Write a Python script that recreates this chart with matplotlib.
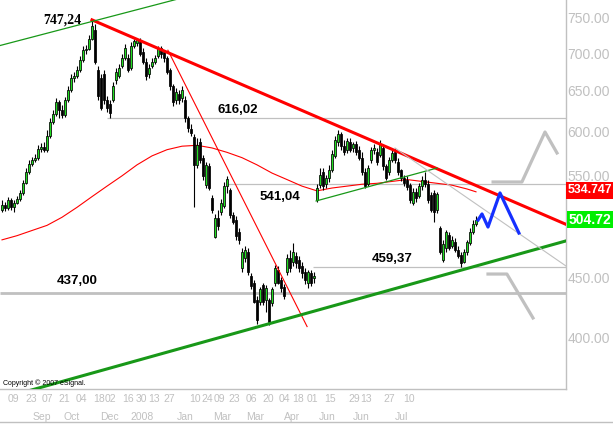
import matplotlib
matplotlib.use('Agg')
import matplotlib.pyplot as plt
from matplotlib import font_manager
from matplotlib.ticker import FixedLocator, FuncFormatter, NullLocator
from matplotlib.lines import Line2D
import numpy as np

plt.rcParams['font.family'] = ['Liberation Sans', 'DejaVu Sans']
_names = {f.name for f in font_manager.fontManager.ttflist}
if 'Liberation Sans Narrow' in _names:
    XFAM, XSIZE = 'Liberation Sans Narrow', 9
else:
    XFAM, XSIZE = 'Liberation Sans', 7.5

# ---------------- data ----------------
opens = [514,519,516,525,517,521,526,532,542,554,
         563,567,570,580,582,579,595,611,621,636,
         626,620,638,651,667,669,677,691,704,706,
         720,733,677,667,672,638,633,638,664,669,
         682,693,693,680,710,714,715,702,688,672,
         682,688,696,707,702,693,677,656,638,646,
         641,638,616,603,594,562,588,570,540,561,
         527,488,506,512,518,539,535,509,504,493,
         459,468,474,452,446,431,429,444,431,431,
         428,446,457,448,442,455,468,464,470,466,
         461,455,446,454,450,525,540,554,541,548,
         556,572,588,597,583,579,588,581,586,579,
         570,554,541,567,579,576,573,581,561,554,
         567,576,565,556,548,546,540,521,533,529,
         539,546,541,530,532,514,496,466,477,490,
         479,483,475,471,464,474,482,493,500]
closes = [519,516,525,517,521,526,532,542,554,563,
          567,570,580,582,579,595,611,621,636,626,
          620,638,651,667,669,677,691,704,706,720,
          738,688,643,628,638,628,622,656,674,680,
          693,707,677,710,717,718,699,688,669,680,
          688,693,707,699,693,674,656,636,648,638,
          651,616,604,598,562,584,567,550,562,537,
          514,506,498,521,539,547,509,502,489,485,
          474,475,455,443,429,414,440,429,441,413,
          440,459,446,441,434,468,459,474,463,459,
          454,448,455,446,452,537,551,539,548,556,
          574,590,597,583,576,589,579,586,576,570,
          554,539,559,579,581,565,586,561,548,567,
          575,567,554,548,542,538,525,533,527,539,
          546,541,525,514,512,531,474,481,493,477,
          485,475,470,463,474,483,493,500,504.72]
highs = [525,522,528,527,525,529,535,546,559,567,
         571,574,584,587,588,602,616,626,641,638,
         632,642,656,672,674,682,696,710,711,725,
         747.24,741,682,672,677,643,638,661,680,685,
         699,713,699,715,720,720,721,707,693,685,
         693,697,710,710,704,696,680,659,654,651,
         656,643,619,609,597,592,592,573,565,564,
         530,510,514,526,543,550,537,512,508,496,
         477,479,477,454,448,434,442,446,444,433,
         442,462,461,451,445,472,475,482,474,470,
         464,459,457,457,455,541,559,559,551,562,
         579,595,602,599,590,592,592,588,589,583,
         576,559,562,582,586,581,590,583,563,571,
         579,581,570,557,551,550,542,537,537,542,
         550,554,546,533,535,533,498,485,494,493,
         489,487,479,474,476,485,496,504,508]
lows = [512,513,514,514,512,520,523,530,541,552,
        561,565,567,576,576,576,592,609,619,616,
        616,617,636,649,661,667,674,688,699,704,
        718,685,638,626,633,623,616,636,659,667,
        680,691,674,677,707,710,696,685,664,667,
        680,685,693,693,688,672,651,631,633,633,
        636,611,599,595,517,559,564,546,537,535,
        511,487,494,509,516,532,506,500,485,481,
        455,464,453,440,428,411,427,427,421,410,
        426,443,445,438,432,453,455,461,459,455,
        450,445,441,443,446,522,537,535,537,543,
        554,570,583,579,573,575,576,576,573,567,
        551,537,539,564,574,562,571,556,546,551,
        565,564,551,544,539,535,521,519,522,527,
        535,538,521,512,502,511,472,464,474,475,
        477,474,468,459.37,463,471,480,491,498]

ma_idx = [0,5,10,15,20,25,30,35,40,45,50,55,60,65,70,75,80,85,90,95,
          100,105,110,115,120,125,130,135,140,145,150,155,158]
ma_val = [485,489,494,499,507,517,528,539,550,562,572,579,583,584,581,576,
          570,562,553,546,539,534,537,539,541,542,544,546,544,542,540,536,533]

# trend lines: (bar index, price) end points
red_trend_x, red_trend_y = [30, 188], [747.24, 500]
red_thin_x, red_thin_y = [55.3, 101.7], [704, 409]
green_trend_x, green_trend_y = [0, 188], [355.3, 484]
green_top_x, green_top_y = [-0.67, 64], [710.5, 785]
green_mid_x, green_mid_y = [104.7, 145], [523.5, 558.5]
gray_diag_x, gray_diag_y = [131, 188], [580.9, 460.7]
blue_x = [158.7, 160, 162, 166, 172.3]
blue_y = [504.3, 510.3, 497.4, 531.8, 491.6]
gray_up_x, gray_up_y = [163.7, 173.3, 181, 185], [543.4, 543.4, 599.5, 575.3]
gray_dn_x, gray_dn_y = [162, 168.3, 177], [453.5, 453.5, 416]

levels = [616.02, 541.04, 459.37, 437.00]
level_start = [35, 75, 103.7, -0.67]
level_labels = ['616,02', '541,04', '459,37', '437,00']
peak_label = '747,24'

yticks = [400, 450, 550, 600, 650, 700, 750]
day_labels = ['09','23','07','21','04','18','02','16','30','13','27','10','24',
              '09','23','06','20','04','18','01','15','29','13','27','10']
day_pos = [3.67,9.67,15.17,20.67,26.33,32.2,36.3,42,46.33,50.67,55.67,64.33,68.5,
           72.6,77.33,83,88.67,94,98.67,103.33,109.33,117.33,121.33,129,135.67]
month_labels = ['Sep','Oct','Dec','2008','Jan','Mar','Mar','Apr','Jun','Jun','Jul']
month_pos = [13.33,23.33,35.67,46.67,61,73.33,84.33,96.67,108.33,119.67,133]

last_label = '504.72'
red_label_val, red_label = 534.74, '534.747'

# ---------------- drawing ----------------
GRAY = '#c0c0c0'
fig = plt.figure(figsize=(6.13, 4.24), dpi=100)
ax = fig.add_axes([0, 35/424, 566/613, 389/424])
ax.set_yscale('log')
ax.set_ylim(361.8, 777)
ax.set_xlim(-2/3, 188)

xs = np.arange(len(closes))
o = np.array(opens, float); c = np.array(closes, float)
h = np.array(highs, float); l = np.array(lows, float)

# level lines
for v, s in zip(levels, level_start):
    lw = 2.0 if v == 437.00 else 0.9
    ax.plot([s, 188], [v, v], color=GRAY, lw=lw, zorder=1, solid_capstyle='butt')

# moving average
ax.plot(ma_idx, ma_val, color='#ff0000', lw=0.8, zorder=2)

# candles
ax.vlines(xs, l, h, color='black', lw=0.8, zorder=3)
up = c >= o
bot = np.minimum(o, c)
hgt = np.maximum(np.abs(c - o), 0.6)
ax.bar(xs, hgt, bottom=bot, width=0.8,
       color=np.where(up, '#22dd22', 'black'), edgecolor='black',
       linewidth=0.55, zorder=4)

# trend lines
ax.plot(red_trend_x, red_trend_y, color='#ff0000', lw=2.2, zorder=5)
ax.plot(red_thin_x, red_thin_y, color='#ff0000', lw=0.8, zorder=5)
ax.plot(green_trend_x, green_trend_y, color='#189818', lw=2.2, zorder=5)
ax.plot(green_top_x, green_top_y, color='#189818', lw=0.9, zorder=5)
ax.plot(green_mid_x, green_mid_y, color='#189818', lw=0.9, zorder=5)
ax.plot(gray_diag_x, gray_diag_y, color=GRAY, lw=0.8, zorder=5)
ax.plot(gray_up_x, gray_up_y, color=GRAY, lw=2.3, zorder=5)
ax.plot(gray_dn_x, gray_dn_y, color=GRAY, lw=2.3, zorder=5)
ax.plot(blue_x, blue_y, color='#1530ff', lw=2.3, zorder=6)

# level text labels
lab_font = dict(fontsize=9.5, fontweight='bold', color='black')
ax.annotate(level_labels[0], (78.5, levels[0]), xytext=(0, 1.5),
            textcoords='offset points', ha='center', va='bottom', **lab_font)
ax.annotate(level_labels[1], (92.7, levels[1]), xytext=(0, -5),
            textcoords='offset points', ha='center', va='top', **lab_font)
ax.annotate(level_labels[2], (130.2, levels[2]), xytext=(0, 2),
            textcoords='offset points', ha='center', va='bottom', **lab_font)
ax.annotate(level_labels[3], (25, levels[3]), xytext=(0, 4.5),
            textcoords='offset points', ha='center', va='bottom', **lab_font)
ax.annotate(peak_label, (20, highs[30]), ha='center', va='center',
            fontsize=10, fontweight='bold', family='Liberation Serif')

# axes styling
for s in ['left', 'top']:
    ax.spines[s].set_visible(False)
for s in ['right', 'bottom']:
    ax.spines[s].set_color(GRAY)
    ax.spines[s].set_linewidth(1.0)
ax.yaxis.set_major_locator(FixedLocator(yticks))
ax.yaxis.set_minor_locator(NullLocator())
ax.yaxis.set_major_formatter(FuncFormatter(lambda v, p: f'{v:.2f}'))
ax.yaxis.tick_right()
ax.tick_params(axis='y', length=0, pad=1, labelsize=10, labelcolor=GRAY)
ax.set_xticks([])

xtr = ax.get_xaxis_transform()
for p, t in zip(day_pos, day_labels):
    ax.text(p, -0.0257, t, transform=xtr, ha='center', va='center',
            fontsize=XSIZE, family=XFAM, color=GRAY, clip_on=False)
for p, t in zip(month_pos, month_labels):
    ax.text(p, -0.0715, t, transform=xtr, ha='center', va='center',
            fontsize=XSIZE, family=XFAM, color=GRAY, clip_on=False)

# value boxes on the price scale
ax.annotate(red_label, xy=(1, red_label_val), xycoords=('axes fraction', 'data'),
            xytext=(1.5, 0), textcoords='offset points', ha='left', va='center',
            fontsize=8.8, fontweight='bold', color='white', annotation_clip=False,
            bbox=dict(boxstyle='square,pad=0.2', fc='#ff0000', ec='none'), zorder=10)
ax.annotate(last_label, xy=(1, closes[-1]), xycoords=('axes fraction', 'data'),
            xytext=(2, 0), textcoords='offset points', ha='left', va='center',
            fontsize=10, fontweight='bold', color='white', annotation_clip=False,
            bbox=dict(boxstyle='square,pad=0.12', fc='#00ee00', ec='none'), zorder=10)

fig.text(3/613, 1 - 383/424, 'Copyright \u00a9 2007 eSignal.', fontsize=5,
         va='center', ha='left', color='black')
fig.add_artist(Line2D([0, 1], [2/424, 2/424], color=GRAY, lw=1,
                      transform=fig.transFigure))

fig.savefig('out.png', dpi=100)
